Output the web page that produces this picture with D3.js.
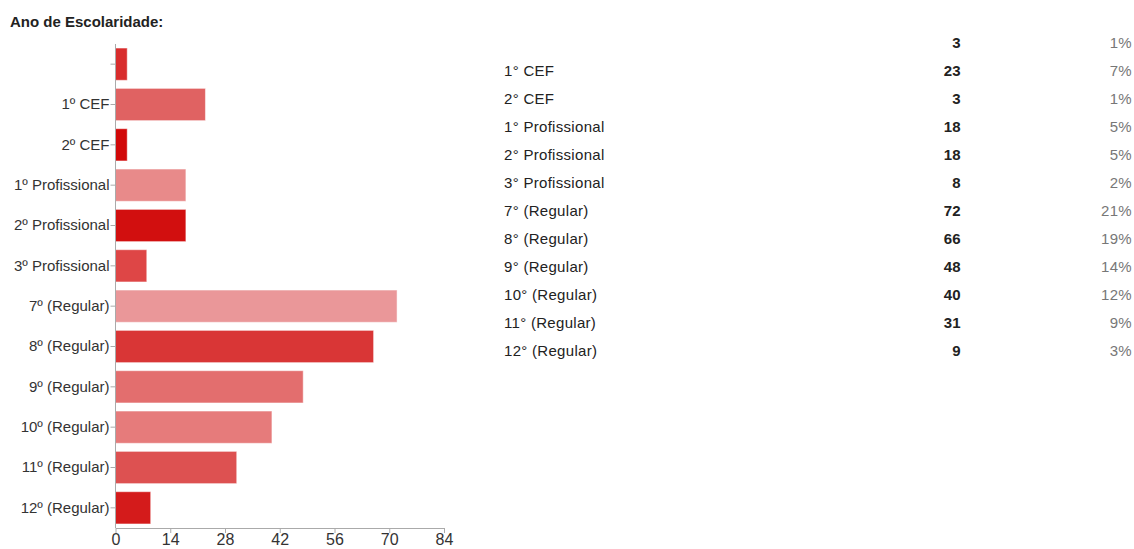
<!DOCTYPE html>
<html>
<head>
<meta charset="UTF-8" />
<style>
    body { margin: 0; background: #fff; font-family: "Liberation Sans", Arial, sans-serif; }
    svg { display: block; }
</style>
</head>
<body>
<svg></svg>
<script src="https://cdn.jsdelivr.net/npm/d3@7"></script>
<script>
    // data
    let categories = ["", "1º CEF", "2º CEF", "1º Profissional", "2º Profissional", "3º Profissional",
        "7º (Regular)", "8º (Regular)", "9º (Regular)", "10º (Regular)", "11º (Regular)", "12º (Regular)"];
    let tableLabels = ["", "1° CEF", "2° CEF", "1° Profissional", "2° Profissional", "3° Profissional",
        "7° (Regular)", "8° (Regular)", "9° (Regular)", "10° (Regular)", "11° (Regular)", "12° (Regular)"];
    let counts = [3, 23, 3, 18, 18, 8, 72, 66, 48, 40, 31, 9];
    let percents = ["1%", "7%", "1%", "5%", "5%", "2%", "21%", "19%", "14%", "12%", "9%", "3%"];
    let xTicks = [0, 14, 28, 42, 56, 70, 84];
    let barColors = ["#d82c2c", "#e06262", "#d10808", "#e88a8a", "#d20f0f", "#de4646",
        "#ea9799", "#d93636", "#e36e6e", "#e67b7b", "#dd5151", "#d41b1b"];

    let width = 1134, height = 549;
    let svg = d3.select("svg").attr("width", width).attr("height", height);

    svg.append("text")
        .attr("x", 10).attr("y", 27)
        .style("font-size", "15px").style("font-weight", "bold").style("fill", "#222")
        .text("Ano de Escolaridade:");

    let x = d3.scaleLinear().domain([0, 84]).range([115.5, 444]);
    let y = d3.scaleBand().domain(d3.range(categories.length)).range([44, 528]).paddingInner(0.2).paddingOuter(0.1);

    let rows = categories.map((c, i) => ({ i: i, cat: c, v: counts[i] }));

    svg.append("g")
        .selectAll("rect")
        .data(rows)
        .enter()
        .append("rect")
        .attr("x", x(0))
        .attr("y", d => y(d.i))
        .attr("width", d => x(d.v) - x(0))
        .attr("height", y.bandwidth())
        .attr("fill", (d, i) => barColors[i])
        .attr("stroke", "#fff")
        .attr("stroke-opacity", 0.5)
        .attr("stroke-width", 1);

    // y axis
    let yAxis = svg.append("g")
        .attr("transform", "translate(" + x(0) + ",0)")
        .call(d3.axisLeft(y).tickSize(5).tickSizeOuter(0).tickFormat(i => categories[i]));
    yAxis.select(".domain").attr("stroke", "#aaa").attr("d", "M0,44V528");
    yAxis.selectAll(".tick line").attr("stroke", "#aaa");
    yAxis.selectAll(".tick text").attr("x", -6).style("font-size", "15px").style("font-family", "Liberation Sans, Arial, sans-serif").style("fill", "#333");

    // x axis
    let xAxis = svg.append("g")
        .attr("transform", "translate(0,528)")
        .call(d3.axisBottom(x).tickValues(xTicks).tickSize(5).tickSizeOuter(0));
    xAxis.select(".domain").attr("stroke", "#aaa");
    xAxis.selectAll(".tick line").attr("stroke", "#aaa");
    xAxis.selectAll(".tick text").attr("y", 6).style("font-size", "16px").style("font-family", "Liberation Sans, Arial, sans-serif").style("fill", "#333");

    // table on the right
    let rowY = d3.scaleLinear().domain([0, 1]).range([43, 71]);
    let table = svg.append("g").style("font-size", "15px").attr("letter-spacing", "0.3px");

    table.selectAll(".lab")
        .data(rows)
        .enter()
        .append("text")
        .attr("x", 504)
        .attr("y", d => rowY(d.i))
        .attr("dy", "0.35em")
        .style("fill", "#222")
        .text(d => tableLabels[d.i]);

    table.selectAll(".cnt")
        .data(rows)
        .enter()
        .append("text")
        .attr("x", 961)
        .attr("y", d => rowY(d.i))
        .attr("dy", "0.35em")
        .attr("text-anchor", "end")
        .style("font-weight", "bold")
        .style("fill", "#222")
        .text(d => d.v);

    table.selectAll(".pct")
        .data(rows)
        .enter()
        .append("text")
        .attr("x", 1132)
        .attr("y", d => rowY(d.i))
        .attr("dy", "0.35em")
        .attr("text-anchor", "end")
        .style("fill", "#777")
        .text(d => percents[d.i]);
</script>
</body>
</html>
